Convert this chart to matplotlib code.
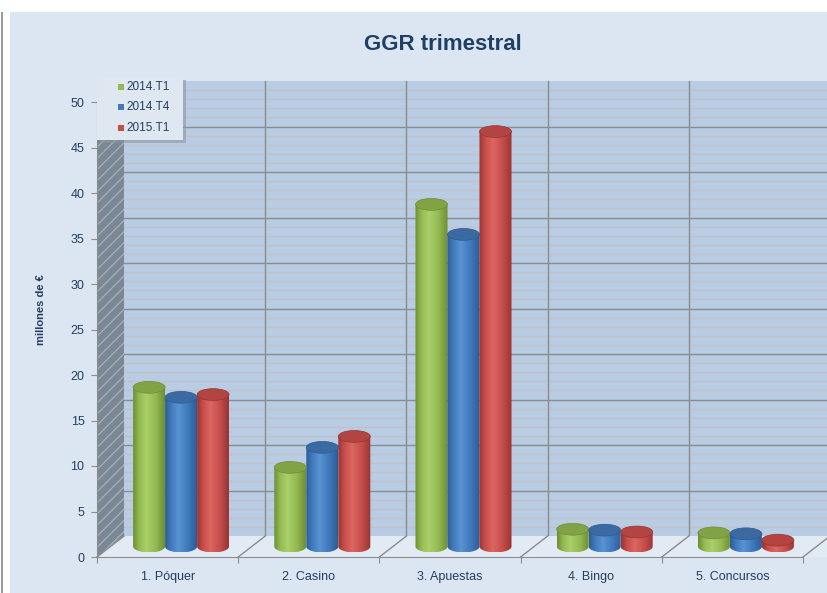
import numpy as np
import matplotlib
matplotlib.use("Agg")
import matplotlib.pyplot as plt
from matplotlib.patches import Polygon, Ellipse, Rectangle
from matplotlib.colors import LinearSegmentedColormap

# Data (millones de euros)
categories = ['1. Póquer', '2. Casino', '3. Apuestas', '4. Bingo', '5. Concursos']
series_names = ['2014.T1', '2014.T4', '2015.T1']
ggr_2014_t1 = [17.5, 8.7, 37.6, 1.9, 1.5]
ggr_2014_t4 = [16.4, 10.9, 34.3, 1.8, 1.4]
ggr_2015_t1 = [16.7, 12.1, 45.6, 1.6, 0.7]
y_ticks = list(range(0, 51, 5))

plt.rcParams['font.family'] = ['Liberation Sans Narrow', 'Liberation Sans', 'DejaVu Sans']

text_col = '#243F60'
bg_col = '#DCE6F2'

# cylinder shading: (edge, mid, highlight, top)
shades = [
    ('#6E8E34', '#93B952', '#ABD06A', '#82A246'),
    ('#2E5C94', '#4079BC', '#5893D2', '#3B69A2'),
    ('#983432', '#C64E4A', '#DC6662', '#B24542'),
]

W, H = 828, 593
fig = plt.figure(figsize=(W / 100, H / 100), dpi=100)
fig.patch.set_facecolor('white')
fig.add_artist(Rectangle((10 / W, 0), 1, 1 - 12 / H, transform=fig.transFigure,
                         facecolor=bg_col, edgecolor='none', zorder=0))
fig.add_artist(Rectangle((1 / W, 0), 2 / W, 1 - 12 / H, transform=fig.transFigure,
                         facecolor='#9A9A9A', edgecolor='none', zorder=0))

# axes: y=0 at pixel 557, x=0 at pixel 97; 141.2 px per category, 9.1 px per unit
px_cat, px_val = 141.2, 9.1
x0_px, y0_px, top_px = 97, 557, 78
ax = fig.add_axes([x0_px / W, (H - y0_px) / H, (W - x0_px) / W, (y0_px - top_px) / H])
ax.set_facecolor('none')
xmax = (W - x0_px) / px_cat
ymax = (y0_px - top_px) / px_val
ax.set_xlim(0, xmax)
ax.set_ylim(0, ymax)

DX = 27 / px_cat
DY = 2.3
n = len(categories)

# back wall
ax.add_patch(Polygon([(DX, DY), (xmax + 1, DY), (xmax + 1, DY + 50), (DX, DY + 50)],
                     closed=True, facecolor='#B8CCE4', edgecolor='none', zorder=1))
for v in range(1, 50):
    major = v % 5 == 0
    ax.plot([DX, xmax], [DY + v, DY + v], color='#8C8C8C' if major else '#C4C0C6',
            lw=1.0 if major else 0.9, zorder=1.5)
for k in range(1, n + 1):
    ax.plot([k + DX, k + DX], [DY, DY + 50], color='#8C8C8C', lw=1.0, zorder=1.5)

# left side wall
ax.add_patch(Polygon([(0, 0), (DX, DY), (DX, DY + 50), (0, 50)], closed=True,
                     facecolor='#7A8794', edgecolor='#A3ACB5', lw=0, hatch='///',
                     zorder=1.6))

# floor
ax.add_patch(Polygon([(0, 0), (xmax + 1, 0), (xmax + 1 + DX, DY), (DX, DY)], closed=True,
                     facecolor='#E2EAF4', edgecolor='none', zorder=1.7))
for k in range(0, n + 1):
    ax.plot([k, k + DX], [0, DY], color='#8C8C8C', lw=1.0, zorder=1.8, clip_on=False)

# cylinders
w = 32 / px_cat
eh = 1.3
base = DY / 2
values = [ggr_2014_t1, ggr_2014_t4, ggr_2015_t1]
t = np.linspace(np.pi, 2 * np.pi, 40)
for i in range(n):
    for j, vals in enumerate(values):
        edge, mid, hi, topc = shades[j]
        cmap = LinearSegmentedColormap.from_list(
            's%d' % j, [(0, edge), (0.18, mid), (0.42, hi), (0.72, mid), (1, edge)])
        cx = i + 0.5 + DX / 2 + (j - 1) * w
        xa, xb = cx - w / 2, cx + w / 2
        top = base + vals[i]
        pts = [(xa, top), (xa, base)]
        pts += list(zip(cx + w / 2 * np.cos(t), base + eh / 2 * np.sin(t)))
        pts += [(xb, base), (xb, top)]
        body = Polygon(pts, closed=True, facecolor='none', edgecolor='none', zorder=3 + i)
        ax.add_patch(body)
        grad = np.linspace(0, 1, 64).reshape(1, -1)
        im = ax.imshow(grad, cmap=cmap, extent=(xa, xb, base - eh / 2, top),
                       aspect='auto', zorder=3 + i, interpolation='bicubic')
        im.set_clip_path(body)
        ax.add_patch(Ellipse((cx, top), w, eh, facecolor=topc, edgecolor=edge,
                             lw=0.5, zorder=3 + i + 0.1))

# axes styling
for s in ['top', 'right']:
    ax.spines[s].set_visible(False)
ax.spines['left'].set_bounds(0, 50)
ax.spines['bottom'].set_bounds(0, n)
ax.spines['left'].set_color('#8C8C8C')
ax.spines['bottom'].set_color('#8C8C8C')
ax.set_yticks(y_ticks)
ax.set_yticklabels([str(v) for v in y_ticks])
ax.set_xticks(range(0, n + 1))
ax.set_xticklabels([''] * (n + 1))
ax.set_xticks([k + 0.5 for k in range(n)], minor=True)
ax.set_xticklabels(categories, minor=True)
ax.tick_params(axis='y', length=4, color='#8C8C8C', labelsize=9, labelcolor=text_col, pad=5)
ax.tick_params(axis='x', which='major', length=4, color='#8C8C8C')
ax.tick_params(axis='x', which='minor', length=0, labelsize=9, labelcolor=text_col, pad=10)
ax.set_ylabel('millones de €', fontsize=8, fontweight='bold', color=text_col)
ax.yaxis.set_label_coords((46 - x0_px) / (W - x0_px), (y0_px - 310) / (y0_px - top_px))

fig.text(443 / W, 1 - 44 / H, 'GGR trimestral', ha='center', va='center',
         fontsize=16, fontweight='bold', color='#1F3F66')

# legend box drawn in figure pixels
def fx(px):
    return px / W

def fy(py):
    return 1 - py / H

fig.add_artist(Rectangle((fx(100), fy(143)), fx(86), 63 / H, transform=fig.transFigure,
                         facecolor='#8E969E', edgecolor='none', alpha=0.6, zorder=19))
fig.add_artist(Rectangle((fx(97), fy(140)), fx(86), 63 / H, transform=fig.transFigure,
                         facecolor='#DFE7F1', edgecolor='none', zorder=20))
for j, name in enumerate(series_names):
    yc = 87 + j * 20.5
    fig.add_artist(Rectangle((fx(118), fy(yc + 3)), fx(6), 6 / H, transform=fig.transFigure,
                             facecolor=shades[j][1], edgecolor='none', zorder=21))
    fig.text(fx(126), fy(yc), name, ha='left', va='center', fontsize=8.5,
             color=text_col, zorder=21)

fig.savefig('out.png', dpi=100)
